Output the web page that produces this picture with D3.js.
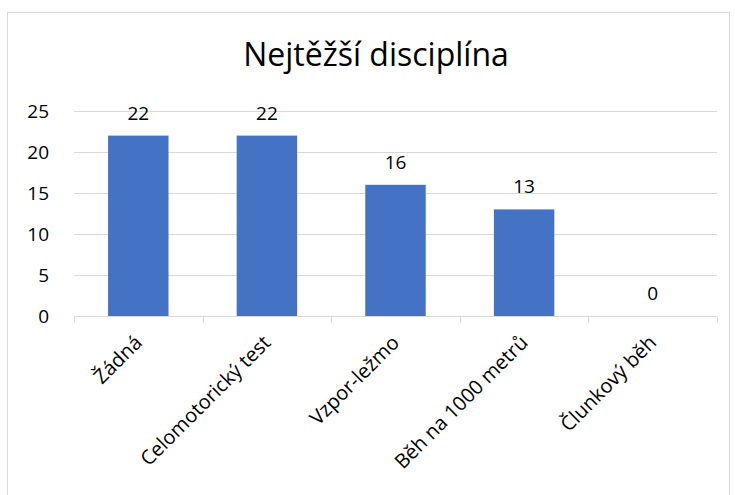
<!DOCTYPE html>
<html>
<head>
<meta charset="utf-8">
<script src="https://cdn.jsdelivr.net/npm/d3@7"></script>
<style>
  body { margin: 0; background: #fff; }
  text { font-family: "Open Sans", "Noto Sans", sans-serif; fill: #000; }
</style>
</head>
<body>
<svg id="chart" width="735" height="495"></svg>
<script>
const categories = ["Žádná", "Celomotorický test", "Vzpor-ležmo", "Běh na 1000 metrů", "Člunkový běh"];
const values = [22, 22, 16, 13, 0];
const yTicks = [0, 5, 10, 15, 20, 25];

const svg = d3.select("#chart");
const width = 735, height = 495;
const margin = { left: 74, right: 18, top: 111, bottom: 179 };

// outer frame
svg.append("rect")
  .attr("x", 7.5).attr("y", 12.5)
  .attr("width", 722).attr("height", 500)
  .attr("fill", "none")
  .attr("stroke", "#d9d9d9");

svg.append("text")
  .attr("x", 376).attr("y", 66)
  .attr("text-anchor", "middle")
  .style("font-size", "32px")
  .text("Nejtěžší disciplína");

const x = d3.scaleBand()
  .domain(categories)
  .range([margin.left, width - margin.right])
  .paddingInner(0.53)
  .paddingOuter(0.265);

const y = d3.scaleLinear()
  .domain([0, 25])
  .range([height - margin.bottom, margin.top]);

// gridlines
svg.append("g")
  .selectAll("line")
  .data(yTicks.slice(1))
  .enter()
  .append("line")
  .attr("x1", margin.left)
  .attr("x2", width - margin.right)
  .attr("y1", d => Math.round(y(d)) + 0.5)
  .attr("y2", d => Math.round(y(d)) + 0.5)
  .attr("stroke", "#d9d9d9");

// y labels
svg.append("g")
  .selectAll("text")
  .data(yTicks)
  .enter()
  .append("text")
  .attr("x", 49)
  .attr("y", d => y(d))
  .attr("dy", "0.36em")
  .attr("text-anchor", "end")
  .style("font-size", "19px")
  .text(d => d);

// bars
svg.append("g")
  .selectAll("rect")
  .data(values)
  .enter()
  .append("rect")
  .attr("x", (d, i) => x(categories[i]))
  .attr("y", d => y(d))
  .attr("width", x.bandwidth())
  .attr("height", d => y(0) - y(d))
  .attr("fill", "#4472c4");

// data labels
svg.append("g")
  .selectAll("text")
  .data(values)
  .enter()
  .append("text")
  .attr("x", (d, i) => x(categories[i]) + x.bandwidth() / 2)
  .attr("y", d => y(d) - 16)
  .attr("text-anchor", "middle")
  .style("font-size", "19px")
  .text(d => d);

// x axis
const xAxis = d3.axisBottom(x).tickSize(0).tickFormat("");
const gx = svg.append("g")
  .attr("transform", `translate(0,${Math.round(y(0)) + 0.5})`)
  .call(xAxis);
gx.select(".domain").remove();

const step = x.step();
const bounds = d3.range(categories.length + 1).map(i => margin.left + i * step);
gx.append("line")
  .attr("x1", margin.left).attr("x2", width - margin.right)
  .attr("stroke", "#d9d9d9");
gx.selectAll(".tk")
  .data(bounds)
  .enter()
  .append("line")
  .attr("class", "tk")
  .attr("x1", d => Math.round(d) + 0.5).attr("x2", d => Math.round(d) + 0.5)
  .attr("y1", 0).attr("y2", 6)
  .attr("stroke", "#d9d9d9");

// rotated category labels
svg.append("g")
  .selectAll("text")
  .data(categories)
  .enter()
  .append("text")
  .attr("transform", d => `translate(${x(d) + x.bandwidth() / 2},${y(0) + 23}) rotate(-45)`)
  .attr("text-anchor", "end")
  .attr("dy", "0.35em")
  .style("font-size", "20px")
  .text(d => d);
</script>
</body>
</html>
